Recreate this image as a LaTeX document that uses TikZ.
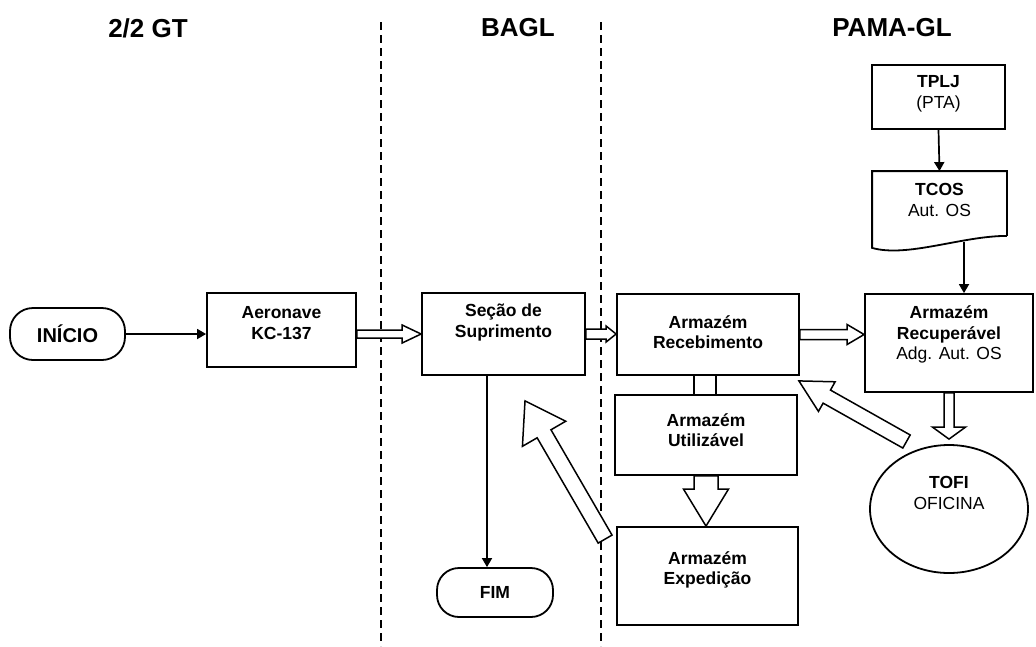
\documentclass[tikz,border=0pt]{standalone}
\usepackage{fontspec}
\setmainfont{Liberation Sans}
\usetikzlibrary{arrows.meta,calc,shapes.geometric}

% hollow block arrow between two points: from, to, shaft half width, head half width, head length
\newcommand{\fatarrow}[5]{%
  \path let \p1=(#1), \p2=(#2) in
    \pgfextra{\pgfmathsetmacro\fatang{atan2(\y2-\y1,\x2-\x1)}%
              \pgfmathsetmacro\fatlen{veclen(\x2-\x1,\y2-\y1)}%
              \global\let\fatang\fatang \global\let\fatlen\fatlen};
  \begin{scope}[shift={(#1)},rotate=\fatang,x=1pt,y=1pt]
    \draw[fat] (0,-#3) -- (\fatlen-#5,-#3) -- (\fatlen-#5,-#4) -- (\fatlen,0)
      -- (\fatlen-#5,#4) -- (\fatlen-#5,#3) -- (0,#3) -- cycle;
  \end{scope}}

\tikzset{
  box/.style={draw, line width=1.8pt, align=center, inner sep=0pt,
    font=\fontsize{17.5}{20.5}\selectfont},
  term/.style={box, rounded corners=23pt},
  fat/.style={draw, line width=1.5pt, fill=white, line join=miter},
  flow/.style={line width=1.7pt, -{Triangle[length=9pt,width=10pt]}},
  lane/.style={line width=1.6pt, dash pattern=on 8pt off 5pt},
  title/.style={font=\bfseries\fontsize{26}{30}\selectfont}
}

\begin{document}
\begin{tikzpicture}[x=1pt,y=-1pt]
\path[use as bounding box, fill=white] (0,0) rectangle (1036,646);

% lanes
\node[title] (gt) at (148,28) {2/2 GT};
\node[title] (bagl) at (518,28) {BAGL};
\node[title] (pama) at (892,28) {PAMA-GL};
\draw[lane] (381,22) -- (381,646);
\draw[lane] (601,22) -- (601,646);

% nodes
\node[term, minimum width=115pt, minimum height=52pt, font=\bfseries\fontsize{20}{24}\selectfont] (ini) at (67.5,334) {INÍCIO};
\node[box, minimum width=149pt, minimum height=74pt, text depth=14pt] (aer) at (281.5,330) {\textbf{Aeronave}\\\textbf{KC-137}};
\node[box, minimum width=163pt, minimum height=82pt, text depth=27pt] (sec) at (503.5,334) {\textbf{Seção de}\\\textbf{Suprimento}};
\node[term, minimum width=116pt, minimum height=49pt, rounded corners=22pt] (fim) at (495,592.5) {\textbf{FIM}};
\node[box, minimum width=182pt, minimum height=81pt, text depth=5pt] (rec) at (708,334.5) {\textbf{Armazém}\\\textbf{Recebimento}};
\node[box, minimum width=182pt, minimum height=80pt, text depth=10pt] (uti) at (706,435) {\textbf{Armazém}\\\textbf{Utilizável}};
\node[box, minimum width=181pt, minimum height=98pt, text depth=16pt] (exp) at (707.5,576) {\textbf{Armazém}\\\textbf{Expedição}};
\node[box, minimum width=133pt, minimum height=64pt, text depth=10pt] (tplj) at (938.5,97) {\textbf{TPLJ}\\(PTA)};
\node[box, draw=none, minimum width=133pt, minimum height=75pt, text depth=19pt] (tcos) at (939.5,209.5) {\textbf{TCOS}\\Aut. OS};
\node[box, minimum width=168pt, minimum height=98pt, text depth=20pt] (rcp) at (949,343) {\textbf{Armazém}\\\textbf{Recuperável}\\Adg. Aut. OS};
\node[box, ellipse, minimum width=158pt, minimum height=128pt, text depth=32pt] (tofi) at (949,509) {\textbf{TOFI}\\OFICINA};

% document outline of TCOS
\draw[line width=1.8pt] ([yshift=12pt]tcos.south east) -- (tcos.north east) -- (tcos.north west)
  -- (tcos.south west) .. controls +(35,10) and +(-45,0) .. ([yshift=12pt]tcos.south east);

% helper points
\coordinate (fimin) at ([xshift=-8pt]fim.north);
\coordinate (tcosout) at ([xshift=24.5pt,yshift=6pt]tcos.south);
\coordinate (tofitop) at ([yshift=5pt]tofi.north);
\coordinate (rl) at ([xshift=-14pt]rec.south);
\coordinate (rr) at ([xshift=8pt]rec.south);
\coordinate (d1tail) at ($(exp.north west)+(-11,13)$);
\coordinate (d1tip) at ($(sec.south)+(21.5,25)$);
\coordinate (d2tail) at ($(tofi.center)+(-42.5,-67.5)$);
\coordinate (d2tip) at ($(rec.south east)+(-1,5)$);

% connectors
\draw[flow] (ini.east) -- (ini.east -| aer.west);
\draw[flow] (fimin |- sec.south) -- (fimin);
\draw[flow] (tplj.south) -- (tcos.north);
\draw[flow] (tcosout) -- (tcosout |- rcp.north);
\draw[fat] (rl) -- (rl |- uti.north) (rr) -- (rr |- uti.north);

\fatarrow{aer.east |- sec.west}{sec.west}{4}{9}{19}
\fatarrow{sec.east}{sec.east -| rec.west}{5}{8}{10}
\fatarrow{rec.east}{rec.east -| rcp.west}{5}{10}{17}
\fatarrow{uti.south}{uti.south |- exp.north}{12}{22.5}{37}
\fatarrow{rcp.south}{rcp.south |- tofitop}{5}{16.5}{12}
\fatarrow{d1tail}{d1tip}{8}{25}{38}
\fatarrow{d2tail}{d2tip}{7.5}{17}{32}
\end{tikzpicture}
\end{document}
